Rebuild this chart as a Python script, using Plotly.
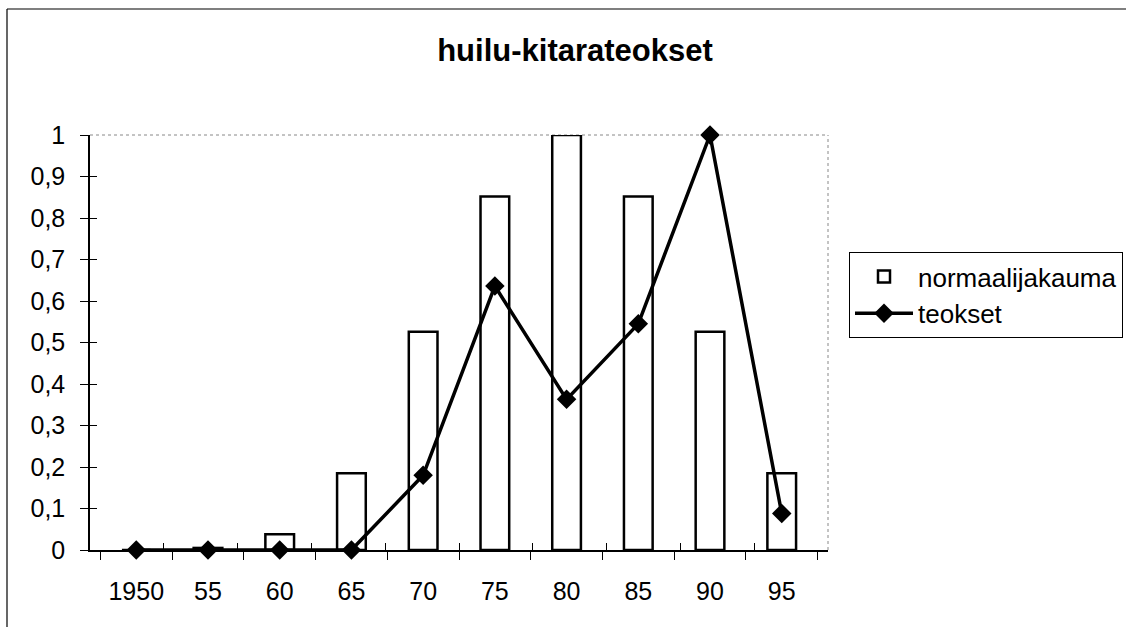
import plotly.graph_objects as go

categories = ["1950", "55", "60", "65", "70", "75", "80", "85", "90", "95"]
normaalijakauma = [0.0, 0.005, 0.038, 0.185, 0.526, 0.852, 1.0, 0.852, 0.526, 0.185]
teokset = [0.0, 0.0, 0.0, 0.0, 0.18, 0.636, 0.363, 0.545, 1.0, 0.088]
y_ticks = [0, 0.1, 0.2, 0.3, 0.4, 0.5, 0.6, 0.7, 0.8, 0.9, 1.0]

W, H = 1126, 627
L, R, T, B = 90, 828, 135, 550  # plot area in px

FONT = "Liberation Sans, Arial, sans-serif"

fig = go.Figure()
fig.add_trace(go.Bar(
    x=categories, y=normaalijakauma, name="normaalijakauma",
    marker=dict(color="white", line=dict(color="black", width=2.5)),
))
fig.add_trace(go.Scatter(
    x=categories, y=teokset, name="teokset", mode="lines+markers",
    line=dict(color="black", width=3.5),
    marker=dict(symbol="diamond", size=15, color="black"),
    cliponaxis=False,
))

def px_x(p):
    return (p - L) / (R - L)

def px_y(p):
    return (B - p) / (B - T)

shapes = [
    # dotted gray top & right borders of the plot area
    dict(type="line", xref="paper", yref="paper", x0=0, x1=1, y0=1, y1=1,
         line=dict(color="#888888", width=1, dash="dot"), layer="below"),
    dict(type="line", xref="paper", yref="paper", x0=1, x1=1, y0=0, y1=1,
         line=dict(color="#888888", width=1, dash="dot"), layer="below"),
    # outer chart border (top and left)
    dict(type="line", xref="paper", yref="paper", x0=px_x(7), x1=px_x(1130),
         y0=px_y(9), y1=px_y(9), line=dict(color="black", width=1.2)),
    dict(type="line", xref="paper", yref="paper", x0=px_x(7), x1=px_x(7),
         y0=px_y(9), y1=px_y(640), line=dict(color="black", width=1.2)),
]

fig.update_layout(
    width=W, height=H,
    margin=dict(l=L, r=W - R, t=T, b=H - B, pad=0, autoexpand=False),
    paper_bgcolor="white", plot_bgcolor="white",
    separators=", ",
    bargap=0.6,
    font=dict(family=FONT, color="black", size=25),
    title=dict(text="<b>huilu-kitarateokset</b>", x=575 / W, xref="container",
               xanchor="center", y=1 - 50 / H, yref="container", yanchor="middle",
               font=dict(family=FONT, size=31, color="black")),
    showlegend=True,
    legend=dict(x=px_x(849), y=px_y(252), xanchor="left", yanchor="top",
                bordercolor="black", borderwidth=1, bgcolor="white",
                font=dict(family=FONT, size=26, color="black"),
                tracegroupgap=0, itemwidth=58),
    xaxis=dict(type="category", showline=True, linecolor="black", linewidth=1.5,
               ticks="outside", ticklen=8, tickcolor="black", tickwidth=1,
               tickson="boundaries", showgrid=False, zeroline=False,
               ticklabelstandoff=18, tickfont=dict(size=25)),
    yaxis=dict(range=[0, 1], tickvals=y_ticks, showline=True, linecolor="black",
               linewidth=1.5, ticks="outside", ticklen=8, tickcolor="black",
               tickwidth=1, showgrid=False, zeroline=False,
               ticklabelstandoff=10, tickfont=dict(size=25)),
    xaxis2=dict(overlaying="x", range=[-0.5, len(categories) - 0.5],
                tickvals=[i + 0.5 for i in range(-1, len(categories))],
                ticks="inside", ticklen=7, tickcolor="black", tickwidth=1,
                showticklabels=False, showgrid=False, zeroline=False,
                showline=False, side="bottom"),
    yaxis2=dict(overlaying="y", range=[0, 1], tickvals=y_ticks,
                ticks="inside", ticklen=7, tickcolor="black", tickwidth=1,
                showticklabels=False, showgrid=False, zeroline=False,
                showline=False, side="left"),
    shapes=shapes,
)

# invisible helper trace so the overlay axes get drawn
fig.add_trace(go.Scatter(x=[0], y=[0], xaxis="x2", yaxis="y2", mode="markers",
                         marker=dict(opacity=0), showlegend=False, hoverinfo="skip"))

fig.write_html("out.html",
               config={"displayModeBar": False},
               post_script="document.body.style.margin='0px';"
                           "document.body.style.overflow='hidden';")
